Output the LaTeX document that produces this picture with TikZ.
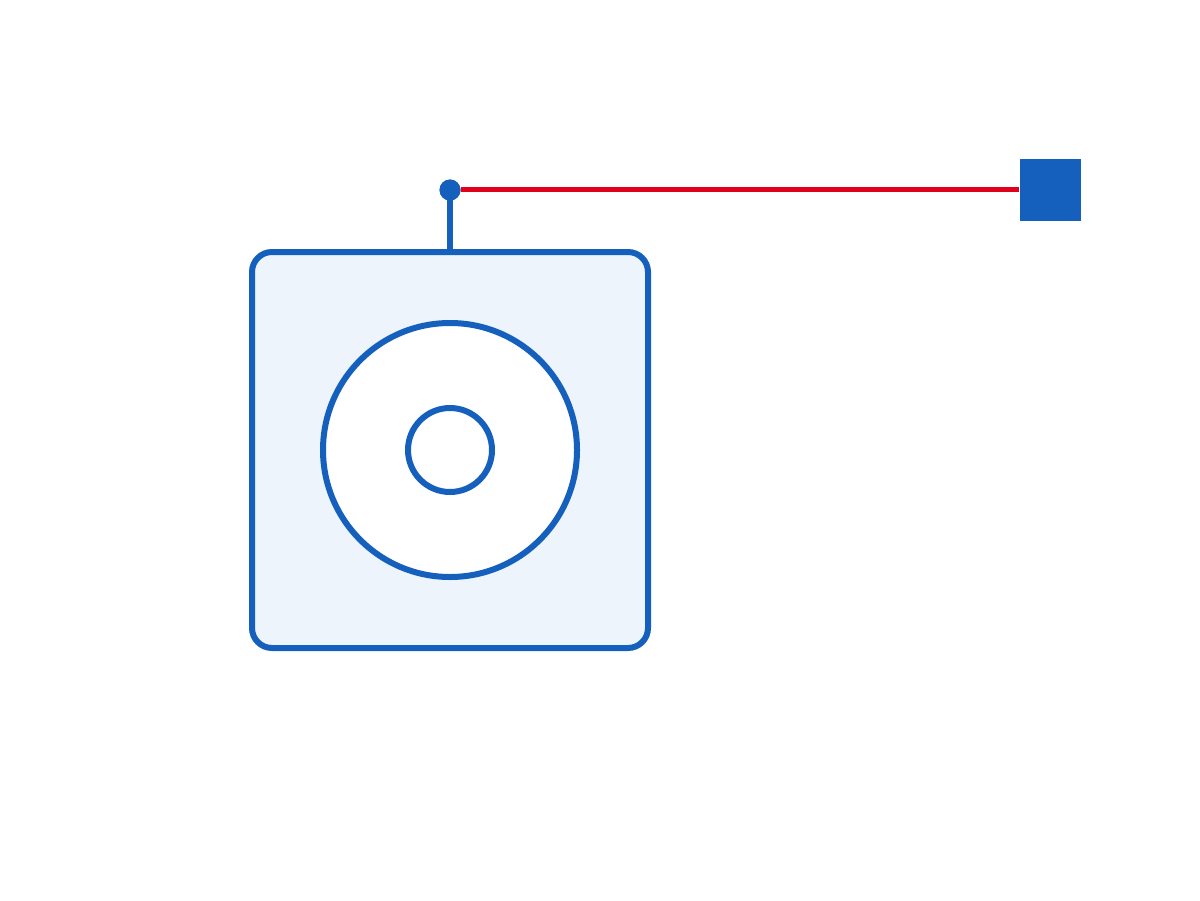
\documentclass[tikz,border=0pt]{standalone}
\usepackage{xcolor}
\usepackage{tikz}
\usetikzlibrary{positioning}
\definecolor{devblue}{HTML}{1560BD}
\definecolor{devfill}{HTML}{EDF4FC}
\definecolor{wirered}{HTML}{E0001A}
\def\BoxSize{7.92cm}
\def\StemLength{1.18cm}

\begin{document}
\begin{tikzpicture}[
	devbox/.style={draw=devblue,fill=devfill,line width=0.12cm,rounded corners=0.4cm,minimum size=\BoxSize,inner sep=0pt},
	ring/.style={circle,draw=devblue,fill=white,line width=0.12cm,inner sep=0pt},
	jdot/.style={circle,fill=devblue,minimum size=0.42cm,inner sep=0pt},
	port/.style={fill=devblue,minimum size=1.22cm,inner sep=0pt},
	wire/.style={draw=wirered,line width=0.1cm}
	]
	\useasboundingbox (0,0) rectangle (24,18);
	\node[devbox] (dev) at (9,9) {};
	\node[ring,minimum size=5.08cm] (outer) at (dev.center) {};
	\node[ring,minimum size=1.68cm] (inner) at (dev.center) {};
	\node[jdot,above=\StemLength of dev.north,anchor=center] (j) {};
	\node[port,right=12cm of j.center,anchor=center] (p) {};
	% stem and wire
	\draw[devblue,line width=0.12cm] (dev.north) -- (j.center);
	\draw[wire] (j.east) -- (p.west);
	\node[jdot] at (j.center) {};
\end{tikzpicture}
\end{document}
